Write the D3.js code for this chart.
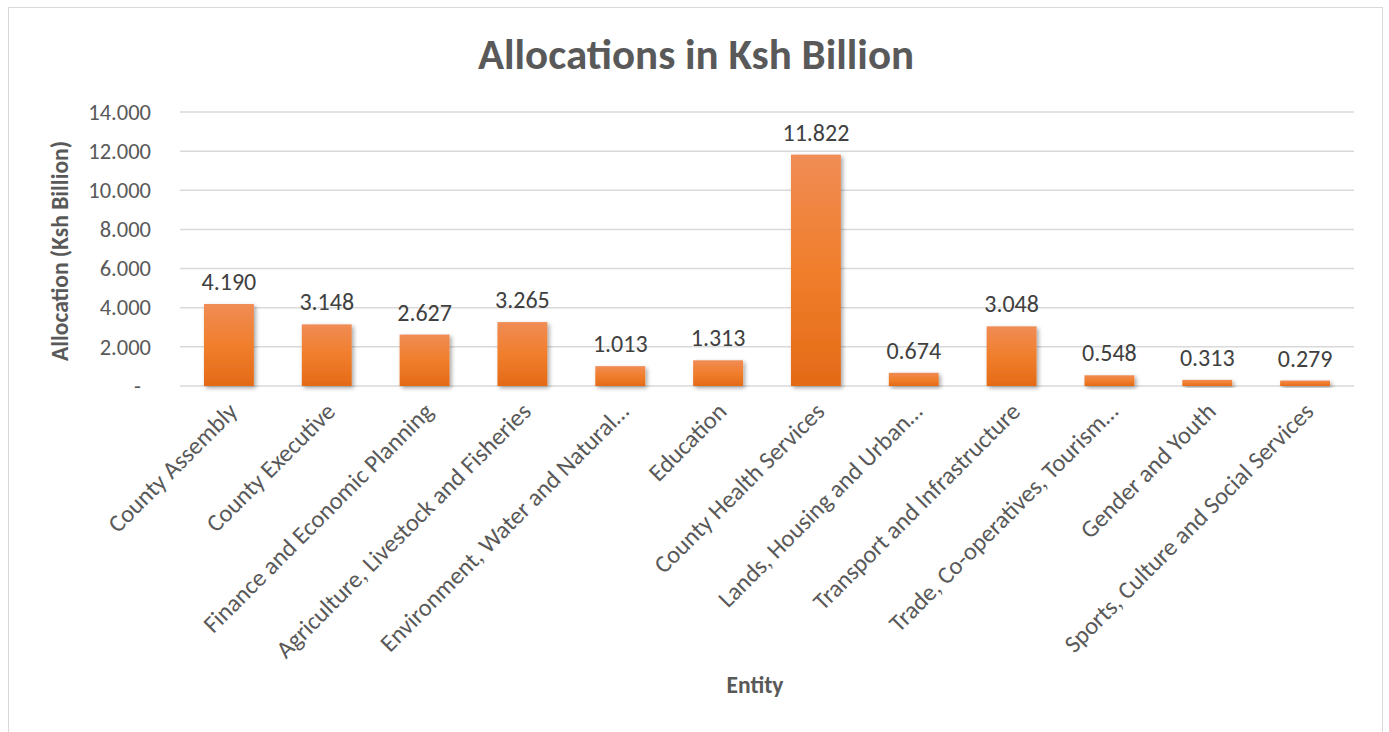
<!DOCTYPE html>
<html><head><meta charset="utf-8">
<script src="https://cdn.jsdelivr.net/npm/d3@7"></script>
<style>body{margin:0;background:#fff}text{font-family:Carlito,Calibri,Lato,"Open Sans",sans-serif}</style>
</head><body><svg id="c" width="1389" height="732"></svg>
<script>
const categories = ["County Assembly","County Executive","Finance and Economic Planning","Agriculture, Livestock and Fisheries","Environment, Water and Natural…","Education","County Health Services","Lands, Housing and Urban…","Transport and Infrastructure","Trade, Co-operatives, Tourism…","Gender and Youth","Sports, Culture and Social Services"];
const values = [4.190,3.148,2.627,3.265,1.013,1.313,11.822,0.674,3.048,0.548,0.313,0.279];
const yTicks = [0,2,4,6,8,10,12,14];

const svg = d3.select("#c");
const L=180,R=1354,T=112,B=386;
const defs = svg.append("defs");
const g = defs.append("linearGradient").attr("id","bg").attr("x1",0).attr("y1",0).attr("x2",0).attr("y2",1);
g.append("stop").attr("offset","0%").attr("stop-color","#f08c55");
g.append("stop").attr("offset","50%").attr("stop-color","#f07e2c");
g.append("stop").attr("offset","100%").attr("stop-color","#e46a17");
const f = defs.append("filter").attr("id","sh").attr("x","-20%").attr("y","-20%").attr("width","150%").attr("height","150%");
f.append("feDropShadow").attr("dx",2).attr("dy",2).attr("stdDeviation",2).attr("flood-color","#000").attr("flood-opacity",0.35);

svg.append("rect").attr("x",8.5).attr("y",7.5).attr("width",1374).attr("height",740).attr("fill","#fff").attr("stroke","#d9d9d9");

const x = d3.scaleBand().domain(categories).range([L,R]).paddingInner(0.49).paddingOuter(0.245);
const y = d3.scaleLinear().domain([0,14]).range([B,T]);

svg.append("g").selectAll("line").data(yTicks).join("line")
 .attr("x1",L).attr("x2",R).attr("y1",d=>y(d)).attr("y2",d=>y(d))
 .attr("stroke","#d9d9d9").attr("stroke-width",1.5);

const ya = svg.append("g").attr("transform",`translate(${L},0)`)
 .call(d3.axisLeft(y).tickValues(yTicks).tickSize(0).tickPadding(29).tickFormat(d=>d===0?"-":d3.format(".3f")(d)));
ya.select(".domain").remove();
ya.selectAll("text").attr("font-size",22.5).attr("fill","#595959").style("font-family","Carlito,Calibri,Lato,sans-serif");
ya.selectAll("text").filter(d=>d===0).attr("dx",-10);

svg.append("g").selectAll("rect").data(values).join("rect")
 .attr("x",(d,i)=>x(categories[i])).attr("width",x.bandwidth())
 .attr("y",d=>y(d)).attr("height",d=>B-y(d))
 .attr("fill","url(#bg)").attr("filter","url(#sh)");

svg.append("g").selectAll("text").data(values).join("text")
 .attr("x",(d,i)=>x(categories[i])+x.bandwidth()/2).attr("y",d=>y(d)-14)
 .attr("text-anchor","middle").attr("font-size",24).attr("fill","#404040")
 .text(d=>d3.format(".3f")(d));

const xa = svg.append("g").attr("transform",`translate(0,${B})`)
 .call(d3.axisBottom(x).tickSize(0).tickPadding(0));
xa.select(".domain").remove();
xa.selectAll("text").attr("font-size",24.5).attr("fill","#595959")
 .attr("text-anchor","end").attr("dy",0).attr("y",0)
 .attr("transform",function(){return "translate(10,27) rotate(-45)";});

svg.append("text").attr("x",696).attr("y",69).attr("text-anchor","middle")
 .attr("font-size",43).attr("font-weight","bold").attr("fill","#595959").text("Allocations in Ksh Billion");
svg.append("text").attr("transform","translate(68,251) rotate(-90)").attr("text-anchor","middle")
 .attr("font-size",23.5).attr("font-weight","bold").attr("fill","#595959").text("Allocation (Ksh Billion)");
svg.append("text").attr("x",755).attr("y",693).attr("text-anchor","middle")
 .attr("font-size",23.5).attr("font-weight","bold").attr("fill","#595959").text("Entity");
</script></body></html>
